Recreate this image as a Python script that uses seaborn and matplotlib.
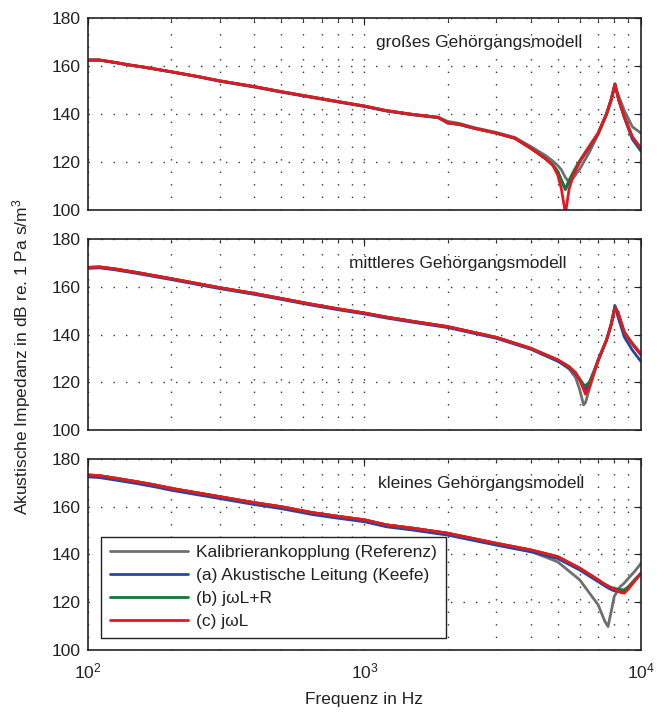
import matplotlib
matplotlib.use("Agg")
import matplotlib.pyplot as plt
import matplotlib.ticker as mticker
import numpy as np
import pandas as pd
import seaborn as sns

# --- data (dB re. 1 Pa s/m^3) ---
# grosses Gehoergangsmodell
f_gross = [100, 110, 125, 140, 160, 200, 250, 300, 400, 500, 650, 800, 1000, 1200, 1500,
           1850, 2000, 2200, 2500, 3000, 3500, 4000, 4500, 4800, 5000, 5150, 5330, 5500,
           5700, 6000, 6500, 7000, 7500, 7800, 8050, 8300, 8700, 9300, 10000]
gross_ref = [162.5, 162.5, 161.5, 160.5, 159.5, 157.6, 155.6, 153.8, 151.4, 149.3, 147.0, 145.2, 143.3, 141.4, 139.8,
             138.6, 136.9, 136.1, 134.3, 132.3, 130.2, 126.4, 122.8, 120.4, 118.5, 116.8, 113.5, 111.5,
             113.5, 117.0, 124.0, 131.5, 139.5, 145.5, 151.5, 147.5, 141.5, 134.7, 132.0]
gross_a = [162.4, 162.4, 161.4, 160.4, 159.4, 157.5, 155.5, 153.6, 151.2, 149.1, 146.8, 145.0, 143.1, 141.2, 139.6,
           138.4, 136.2, 135.6, 134.0, 132.0, 129.8, 125.6, 121.5, 118.8, 116.0, 112.5, 108.5, 112.0,
           115.5, 120.0, 126.0, 132.0, 140.0, 146.0, 152.5, 146.0, 138.5, 129.5, 124.5]
gross_b = [162.5, 162.5, 161.5, 160.5, 159.5, 157.6, 155.6, 153.8, 151.4, 149.3, 147.0, 145.2, 143.3, 141.4, 139.8,
           138.6, 136.3, 135.7, 134.0, 132.0, 129.9, 125.7, 121.5, 118.8, 116.0, 112.5, 108.8, 112.5,
           116.0, 120.5, 126.5, 132.0, 140.0, 146.0, 152.5, 146.0, 139.0, 130.5, 125.5]
gross_c = [162.5, 162.5, 161.5, 160.5, 159.5, 157.6, 155.6, 153.8, 151.4, 149.3, 147.0, 145.2, 143.3, 141.4, 139.8,
           138.6, 136.3, 135.7, 134.0, 132.0, 129.9, 125.7, 121.5, 118.5, 114.5, 109.0, 98.5, 109.0,
           114.5, 120.0, 126.5, 132.0, 140.0, 146.0, 152.5, 146.0, 139.0, 130.5, 125.7]

# mittleres Gehoergangsmodell
f_mittel = [100, 110, 125, 150, 200, 300, 400, 500, 650, 800, 1000, 1200, 1500, 2000, 3000,
            4000, 5000, 5500, 5800, 6000, 6200, 6300, 6500, 6800, 7000, 7500, 7800, 8050, 8250,
            8700, 9300, 10000]
mittel_ref = [168.1, 168.3, 167.5, 166.0, 163.4, 159.6, 157.2, 155.1, 152.6, 150.8, 149.0, 147.3, 145.5, 143.3, 138.8,
              134.2, 129.0, 125.5, 122.0, 117.0, 110.5, 111.5, 117.0, 124.5, 129.0, 137.5, 144.0, 152.0, 149.0,
              141.0, 136.5, 132.0]
mittel_a = [167.7, 167.9, 167.1, 165.6, 163.0, 159.2, 156.8, 154.7, 152.2, 150.4, 148.6, 146.9, 145.1, 142.9, 138.4,
            133.8, 128.8, 126.0, 123.5, 121.0, 118.0, 117.0, 119.0, 125.0, 129.0, 137.5, 144.5, 152.0, 147.5,
            139.0, 133.5, 128.7]
mittel_b = [168.1, 168.3, 167.5, 166.0, 163.4, 159.6, 157.2, 155.1, 152.6, 150.8, 149.0, 147.3, 145.5, 143.3, 138.8,
            134.2, 129.4, 126.5, 124.0, 121.5, 119.0, 118.6, 120.0, 125.5, 129.4, 137.7, 144.0, 151.5, 149.5,
            141.0, 136.0, 131.5]
mittel_c = [168.1, 168.3, 167.5, 166.0, 163.4, 159.6, 157.2, 155.1, 152.6, 150.8, 149.0, 147.3, 145.5, 143.3, 138.8,
            134.2, 129.4, 126.5, 124.0, 121.0, 117.0, 115.0, 118.0, 125.0, 129.4, 137.7, 144.0, 151.0, 149.5,
            141.0, 136.0, 131.5]

# kleines Gehoergangsmodell
f_klein = [100, 110, 125, 150, 175, 200, 300, 400, 500, 650, 800, 1000, 1200, 1500, 2000,
           3000, 4000, 5000, 6000, 7000, 7400, 7600, 7800, 8000, 8400, 8700, 9000, 9500, 10000]
klein_ref = [173.3, 173.0, 172.0, 170.5, 169.1, 167.7, 164.2, 161.7, 160.0, 157.5, 156.0, 154.5, 152.4, 151.0, 148.9,
             144.5, 141.3, 136.9, 129.4, 118.9, 112.0, 109.8, 116.0, 122.4, 126.5, 128.0, 130.0, 133.0, 136.3]
klein_a = [172.5, 172.2, 171.2, 169.7, 168.3, 166.9, 163.4, 160.9, 159.2, 156.7, 155.2, 153.7, 151.6, 150.2, 148.1,
           143.9, 141.1, 138.3, 133.5, 128.6, 126.8, 126.0, 125.3, 124.8, 124.3, 124.5, 126.0, 129.0, 132.0]
klein_b = [173.3, 173.0, 172.0, 170.5, 169.1, 167.7, 164.2, 161.7, 160.0, 157.5, 156.0, 154.5, 152.4, 151.0, 148.9,
           144.7, 141.9, 139.1, 134.3, 129.4, 127.5, 126.8, 126.2, 125.8, 125.3, 125.2, 126.5, 129.5, 132.2]
klein_c = [173.3, 173.0, 172.0, 170.5, 169.1, 167.7, 164.2, 161.7, 160.0, 157.5, 156.0, 154.5, 152.4, 151.0, 148.9,
           144.7, 141.9, 139.1, 134.3, 129.4, 127.5, 126.8, 126.0, 125.5, 124.2, 123.8, 125.5, 129.0, 132.2]

series_names = ["Kalibrierankopplung (Referenz)", "(a) Akustische Leitung (Keefe)",
                "(b) j\u03c9L+R", "(c) j\u03c9L"]
panel_titles = ["gro\u00dfes Geh\u00f6rgangsmodell", "mittleres Geh\u00f6rgangsmodell",
                "kleines Geh\u00f6rgangsmodell"]
colors = ["#6f6f6f", "#2546a0", "#13773a", "#e8161f"]

panels = [
    (f_gross, [gross_ref, gross_a, gross_b, gross_c]),
    (f_mittel, [mittel_ref, mittel_a, mittel_b, mittel_c]),
    (f_klein, [klein_ref, klein_a, klein_b, klein_c]),
]

sns.set_style("white")
plt.rcParams["font.family"] = ["Liberation Sans", "DejaVu Sans"]
plt.rcParams["mathtext.default"] = "regular"
fs = 12.5
plt.rcParams["font.size"] = fs

fig = plt.figure(figsize=(6.65, 7.13), dpi=100)
bottoms = [0.7055, 0.3969, 0.0884]
heights = [0.2693, 0.2679, 0.2679]
text_x = [0.521, 0.472, 0.524]
axes = []

for i, (freq, ys) in enumerate(panels):
    ax = fig.add_axes([0.1323, bottoms[i], 0.8316, heights[i]])
    axes.append(ax)
    for name, col, y in zip(series_names, colors, ys):
        df = pd.DataFrame({"f": freq, "Z": y})
        sns.lineplot(data=df, x="f", y="Z", ax=ax, color=col, lw=2.0,
                     label=name, legend=False, sort=True)
    ax.set_xscale("log")
    ax.set_xlim(100, 10000)
    ax.set_ylim(100, 180)
    ax.set_yticks([100, 120, 140, 160, 180])
    ax.xaxis.set_minor_locator(mticker.LogLocator(base=10, subs=np.arange(2, 10)))
    ax.xaxis.set_minor_formatter(mticker.NullFormatter())
    ax.grid(True, which="both", axis="x", color="#333333", lw=1.0, ls=(0, (1, 8)))
    ax.grid(True, which="major", axis="y", color="#333333", lw=1.0, ls=(0, (1, 8)))
    ax.tick_params(which="both", direction="in", top=True, right=True,
                   labelsize=fs, colors="#222222")
    ax.tick_params(which="major", length=5, width=0.8, pad=5)
    ax.tick_params(which="minor", length=3, width=0.6)
    ax.tick_params(axis="x", which="major", pad=8)
    for sp in ax.spines.values():
        sp.set_color("#222222")
        sp.set_linewidth(1.2)
    ax.set_xlabel("")
    ax.set_ylabel("")
    ax.text(text_x[i], 0.872, panel_titles[i], transform=ax.transAxes,
            ha="left", va="center", fontsize=fs, color="#222222")
    if i < 2:
        ax.tick_params(axis="x", which="both", labelbottom=False)

ax = axes[2]
handles = ax.get_lines()[:4]
leg = ax.legend(handles, series_names, loc="lower left", bbox_to_anchor=(0.0235, 0.063),
                frameon=True, fancybox=False, handlelength=4.5, handletextpad=0.5,
                labelspacing=0.45, borderpad=0.5, fontsize=fs, borderaxespad=0)
leg.get_frame().set_edgecolor("#222222")
leg.get_frame().set_linewidth(1.0)
leg.get_frame().set_alpha(1)
for t in leg.get_texts():
    t.set_color("#222222")

ax.set_xlabel("Frequenz in Hz", fontsize=fs, color="#222222", labelpad=8)
fig.text(0.033, 0.5, "Akustische Impedanz in dB re. 1 Pa s/m$^3$", rotation=90,
         ha="center", va="center", fontsize=fs, color="#222222")

fig.savefig("out.png", dpi=100)
